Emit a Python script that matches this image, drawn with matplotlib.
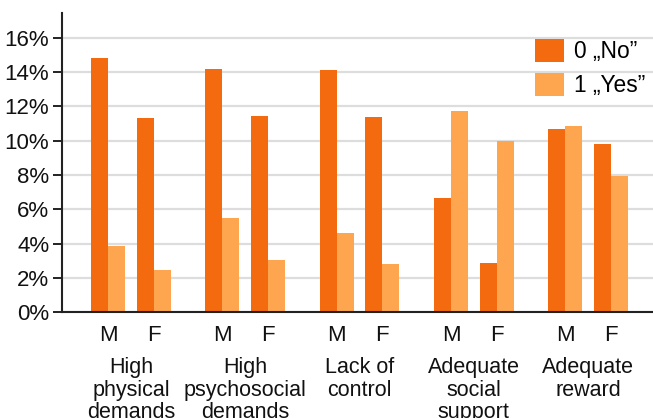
import matplotlib
matplotlib.use("Agg")
import matplotlib.pyplot as plt
from matplotlib.transforms import blended_transform_factory
from matplotlib.patches import Patch

plt.rcParams['font.family'] = ['Liberation Sans', 'DejaVu Sans']

# ---- data ----
categories = ["High\nphysical\ndemands", "High\npsychosocial\ndemands",
              "Lack of\ncontrol", "Adequate\nsocial\nsupport", "Adequate\nreward"]
sexes = ["M", "F"]
series_labels = ["0 \u201eNo\u201d", "1 \u201eYes\u201d"]
no_vals = [14.80, 11.34, 14.16, 11.42, 14.12, 11.36, 6.66, 2.89, 10.66, 9.81]
yes_vals = [3.86, 2.45, 5.50, 3.05, 4.62, 2.82, 11.73, 10.00, 10.84, 7.93]
yticks = [0, 2, 4, 6, 8, 10, 12, 14, 16]
ytick_labels = [f"{v}%" for v in yticks]

c_no = "#F46A0E"
c_yes = "#FEA64F"

W, H = 653, 418
fig = plt.figure(figsize=(W / 100, H / 100), dpi=100)
ax = fig.add_axes([62 / W, 1 - 312.3 / H, 1 - 62 / W, (312.3 - 13.3) / H])

group_gap = 2.5
bw = 0.372
xs = []
for i in range(len(categories)):
    for j in range(len(sexes)):
        xs.append(group_gap * i + j)

ax.bar([x - bw / 2 for x in xs], no_vals, width=bw, color=c_no, linewidth=0, zorder=2)
ax.bar([x + bw / 2 for x in xs], yes_vals, width=bw, color=c_yes, linewidth=0, zorder=2)

ax.set_xlim(-1.01, 11.92)
ax.set_ylim(0, 17.42)
ax.set_yticks(yticks)
ax.set_yticklabels(ytick_labels, fontsize=16, color="#111111")
ax.set_xticks([])
ax.tick_params(axis='y', length=6.8, width=1.4, color="#222222", pad=2.3)
ax.set_axisbelow(True)
ax.yaxis.grid(True, color="#dddddd", linewidth=1.6)
for s in ["top", "right"]:
    ax.spines[s].set_visible(False)
for s in ["left", "bottom"]:
    ax.spines[s].set_linewidth(1.5)
    ax.spines[s].set_color("#222222")

tr = blended_transform_factory(ax.transData, fig.transFigure)
for k, x in enumerate(xs):
    ax.text(x, 1 - 341 / H, sexes[k % 2], transform=tr, ha="center", va="baseline",
            fontsize=16, color="#111111")
for i, cat in enumerate(categories):
    ax.text(group_gap * i + 0.5, 1 - 357.3 / H, cat, transform=tr, ha="center", va="top",
            fontsize=15.5, linespacing=1.09, color="#111111")

handles = [Patch(facecolor=c_no, edgecolor="none"), Patch(facecolor=c_yes, edgecolor="none")]
ax.legend(handles, series_labels, loc="upper left", bbox_to_anchor=(535 / W, 1 - 39 / H),
          bbox_transform=fig.transFigure, frameon=False, fontsize=16.4,
          handlelength=1.26, handleheight=1.18, handletextpad=0.45, labelspacing=0.42,
          borderpad=0, borderaxespad=0)

fig.savefig("out.png", dpi=100)
